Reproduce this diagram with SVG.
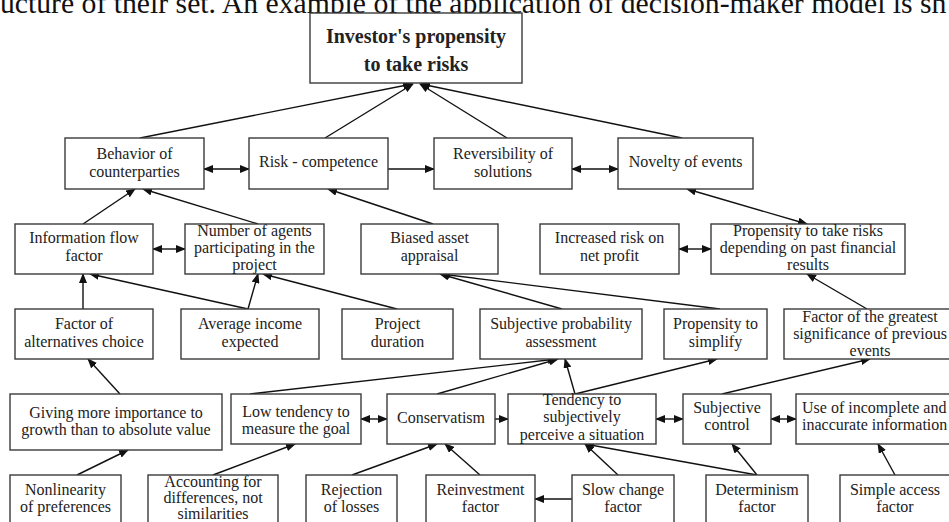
<svg xmlns="http://www.w3.org/2000/svg" width="949" height="522" viewBox="0 0 949 522">
<defs>
<marker id="ah" markerUnits="userSpaceOnUse" markerWidth="10" markerHeight="8" refX="9" refY="4" orient="auto-start-reverse" viewBox="0 0 10 8">
<path d="M0,0 L10,4 L0,8 z" fill="#111"/>
</marker>
<style>
rect{fill:#fff;stroke:#3a3a3a;stroke-width:1.4}
text{font-family:"Liberation Serif","Times New Roman",serif;font-size:16px;fill:#222;text-anchor:middle}
.b{font-weight:bold;font-size:20px}
.top{font-size:29.7px;text-anchor:start;fill:#111}
#conn line{stroke:#111;stroke-width:1.4;marker-end:url(#ah)}
#conn line.d{marker-start:url(#ah)}
</style>
</defs>
<rect x="0" y="0" width="949" height="522" style="fill:#fff;stroke:none"/>
<text class="top" x="0" y="12.5">ucture of their set. An example of the application of decision-maker model is sh</text>

<g id="conn">
<line x1="140" y1="138" x2="412" y2="84"/>
<line x1="325" y1="138" x2="413" y2="84"/>
<line x1="507" y1="138" x2="420" y2="84"/>
<line x1="682" y1="138" x2="421" y2="84"/>
<line class="d" x1="204" y1="169" x2="249" y2="169"/>
<line x1="388" y1="169" x2="434" y2="169"/>
<line class="d" x1="572" y1="169" x2="618" y2="169"/>
<line x1="83" y1="224" x2="135" y2="189"/>
<line x1="258" y1="224" x2="143" y2="189"/>
<line x1="433" y1="224" x2="328" y2="189"/>
<line class="d" x1="807" y1="224" x2="687" y2="189"/>
<line class="d" x1="153" y1="249" x2="185" y2="249"/>
<line class="d" x1="679" y1="249" x2="711" y2="249"/>
<line x1="83" y1="309" x2="83" y2="274"/>
<line x1="248" y1="309" x2="90" y2="274"/>
<line x1="248" y1="309" x2="258" y2="274"/>
<line x1="397" y1="309" x2="263" y2="274"/>
<line x1="562" y1="309" x2="440" y2="274"/>
<line x1="720" y1="309" x2="441" y2="274"/>
<line x1="867" y1="309" x2="807" y2="274"/>
<line x1="120" y1="394" x2="88" y2="359"/>
<line x1="250" y1="394" x2="557" y2="359"/>
<line x1="437" y1="394" x2="558" y2="359"/>
<line x1="575" y1="394" x2="565" y2="359"/>
<line x1="575" y1="394" x2="717" y2="359"/>
<line x1="722" y1="394" x2="870" y2="359"/>
<line class="d" x1="361" y1="419" x2="387" y2="419"/>
<line x1="495" y1="419" x2="508" y2="419"/>
<line class="d" x1="656" y1="419" x2="683" y2="419"/>
<line class="d" x1="771" y1="419" x2="796" y2="419"/>
<line x1="77" y1="475" x2="128" y2="450"/>
<line x1="213" y1="475" x2="295" y2="444"/>
<line x1="352" y1="475" x2="437" y2="444"/>
<line x1="480" y1="475" x2="445" y2="444"/>
<line x1="572" y1="499" x2="535" y2="499"/>
<line x1="618" y1="475" x2="585" y2="444"/>
<line x1="757" y1="475" x2="585" y2="444"/>
<line x1="757" y1="475" x2="732" y2="444"/>
<line x1="895" y1="475" x2="878" y2="444"/>
</g>

<g id="n-root"><rect x="310" y="13" width="212" height="70"/><text class="b" x="416" y="43">Investor's propensity</text><text class="b" x="416" y="71">to take risks</text></g>

<g id="n-behavior"><rect x="65" y="138" width="139" height="51"/><text x="134.5" y="159">Behavior of</text><text x="134.5" y="177">counterparties</text></g>
<g id="n-risk"><rect x="249" y="138" width="139" height="51"/><text x="318.5" y="167">Risk - competence</text></g>
<g id="n-revers"><rect x="434" y="138" width="138" height="51"/><text x="503" y="159">Reversibility of</text><text x="503" y="177">solutions</text></g>
<g id="n-novelty"><rect x="618" y="138" width="135" height="51"/><text x="685.5" y="167">Novelty of events</text></g>

<g id="n-infoflow"><rect x="15" y="224" width="138" height="50"/><text x="84" y="243">Information flow</text><text x="84" y="261">factor</text></g>
<g id="n-agents"><rect x="185" y="224" width="139" height="50"/><text x="254.5" y="236">Number of agents</text><text x="254.5" y="253">participating in the</text><text x="254.5" y="270">project</text></g>
<g id="n-biased"><rect x="361" y="224" width="137" height="50"/><text x="429.5" y="243">Biased asset</text><text x="429.5" y="261">appraisal</text></g>
<g id="n-increased"><rect x="540" y="224" width="139" height="50"/><text x="609.5" y="243">Increased risk on</text><text x="609.5" y="261">net profit</text></g>
<g id="n-pastres"><rect x="711" y="224" width="194" height="50"/><text x="808" y="236">Propensity to take risks</text><text x="808" y="253">depending on past financial</text><text x="808" y="270">results</text></g>

<g id="n-altchoice"><rect x="15" y="309" width="138" height="50"/><text x="84" y="329">Factor of</text><text x="84" y="347">alternatives choice</text></g>
<g id="n-avgincome"><rect x="181" y="309" width="138" height="50"/><text x="250" y="329">Average income</text><text x="250" y="347">expected</text></g>
<g id="n-duration"><rect x="342" y="309" width="111" height="50"/><text x="397.5" y="329">Project</text><text x="397.5" y="347">duration</text></g>
<g id="n-subjprob"><rect x="480" y="309" width="162" height="50"/><text x="561" y="329">Subjective probability</text><text x="561" y="347">assessment</text></g>
<g id="n-simplify"><rect x="664" y="309" width="103" height="50"/><text x="715.5" y="329">Propensity to</text><text x="715.5" y="347">simplify</text></g>
<g id="n-greatest"><rect x="784" y="309" width="174" height="50"/><text x="870" y="322">Factor of the greatest</text><text x="870" y="339">significance of previous</text><text x="870" y="356">events</text></g>

<g id="n-giving"><rect x="10" y="394" width="212" height="56"/><text x="116" y="418">Giving more importance to</text><text x="116" y="435">growth than to absolute value</text></g>
<g id="n-lowtend"><rect x="231" y="394" width="130" height="50"/><text x="296" y="417">Low tendency to</text><text x="296" y="434">measure the goal</text></g>
<g id="n-conserv"><rect x="387" y="394" width="108" height="50"/><text x="441" y="423">Conservatism</text></g>
<g id="n-tendency"><rect x="508" y="394" width="148" height="50"/><text x="582" y="405">Tendency to</text><text x="582" y="422">subjectively</text><text x="582" y="440">perceive a situation</text></g>
<g id="n-subjctrl"><rect x="683" y="394" width="88" height="50"/><text x="727" y="413">Subjective</text><text x="727" y="430">control</text></g>
<g id="n-incomplete"><rect x="796" y="394" width="170" height="50"/><text x="802" y="413" style="text-anchor:start">Use of incomplete and</text><text x="802" y="430" style="text-anchor:start">inaccurate information</text></g>

<g id="n-nonlin"><rect x="10" y="475" width="111" height="60"/><text x="65.5" y="495">Nonlinearity</text><text x="65.5" y="512">of preferences</text></g>
<g id="n-accounting"><rect x="148" y="475" width="130" height="60"/><text x="213" y="487">Accounting for</text><text x="213" y="503">differences, not</text><text x="213" y="519">similarities</text></g>
<g id="n-rejection"><rect x="306" y="475" width="91" height="60"/><text x="351.5" y="495">Rejection</text><text x="351.5" y="512">of losses</text></g>
<g id="n-reinvest"><rect x="426" y="475" width="109" height="60"/><text x="480.5" y="495">Reinvestment</text><text x="480.5" y="512">factor</text></g>
<g id="n-slow"><rect x="572" y="475" width="102" height="60"/><text x="623" y="495">Slow change</text><text x="623" y="512">factor</text></g>
<g id="n-determ"><rect x="706" y="475" width="102" height="60"/><text x="757" y="495">Determinism</text><text x="757" y="512">factor</text></g>
<g id="n-simple"><rect x="840" y="475" width="115" height="60"/><text x="895" y="495">Simple access</text><text x="895" y="512">factor</text></g>
</svg>
